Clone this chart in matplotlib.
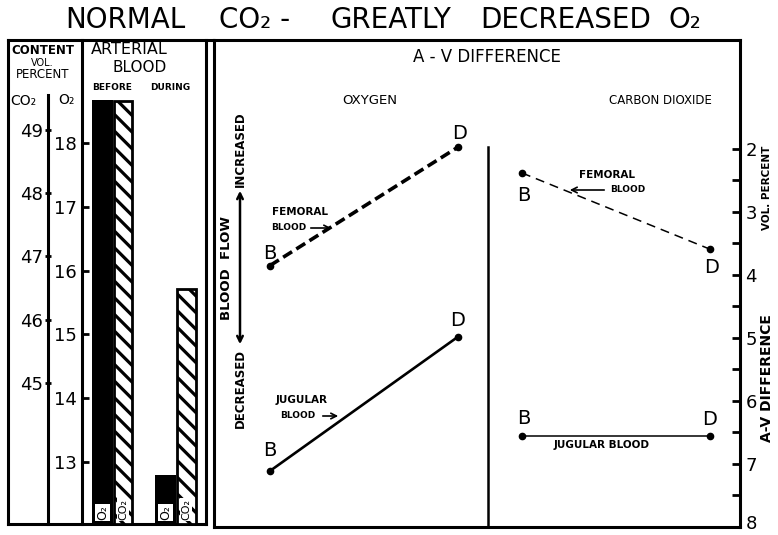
#!/usr/bin/env python
"""Arterial content and A-V difference under normal CO2 / greatly decreased O2."""

import matplotlib

matplotlib.use("Agg")
import matplotlib.pyplot as plt
import matplotlib.transforms as mtransforms
import numpy as np

# --- data ---
BAR_GROUPS = ["BEFORE", "DURING"]
O2_CONTENT = [18.67, 12.80]      # vol. percent, black bars
CO2_CONTENT = [49.46, 46.49]     # vol. percent, hatched bars
O2_TICKS = [13, 14, 15, 16, 17, 18]
CO2_TICKS = [45, 46, 47, 48, 49]

STAGES = ["B", "D"]
O2_FEMORAL = [3.85, 1.97]        # A-V difference, vol. percent
O2_JUGULAR = [7.11, 4.98]
CO2_FEMORAL = [2.38, 3.59]
CO2_JUGULAR = [6.56, 6.56]
AV_TICKS = [2, 3, 4, 5, 6, 7, 8]

# --- layout (pixels of a 778x535 canvas) ---
W, H = 778, 535
O2_LIM = (12.03, 19.61)
CO2_LIM = (42.77, 50.42)
AV_LIM = (8.0, 0.27)
AV_XLIM = (-0.298, 2.5)
CO2_SHIFT = 1.34
LW = 2.2

plt.rcParams["font.family"] = ["DejaVu Sans"]
plt.rcParams["hatch.linewidth"] = 2.3


def rect_px(x0, y0, x1, y1):
    return [x0 / W, 1 - y1 / H, (x1 - x0) / W, (y1 - y0) / H]


fig = plt.figure(figsize=(W / 100, H / 100), dpi=100)

# background layer in pixel coordinates for frames and lettering
bg = fig.add_axes([0, 0, 1, 1])
bg.set_xlim(0, W)
bg.set_ylim(H, 0)
bg.axis("off")

# title
for word, cx in [("NORMAL", 125), ("CO₂ -", 255), ("GREATLY", 391),
                 ("DECREASED", 566), ("O₂", 685)]:
    bg.text(cx, 20, word, fontsize=20, ha="center", va="center")

# left panel frame
bg.plot([8, 213], [40, 40], color="black", lw=LW)
bg.plot([8, 8], [40, 524], color="black", lw=LW)
bg.plot([8, 206], [524, 524], color="black", lw=LW)
bg.plot([206, 206], [40, 524], color="black", lw=LW)
bg.plot([488, 488], [147, 527], color="black", lw=1.8)

# left panel lettering
bg.text(43, 50, "CONTENT", fontsize=8.5, fontweight="bold", ha="center", va="center")
bg.text(42, 63, "VOL.", fontsize=7, ha="center", va="center")
bg.text(43, 75, "PERCENT", fontsize=8.5, ha="center", va="center")
bg.text(23, 101, "CO₂", fontsize=10, ha="center", va="center")
bg.text(66, 100, "O₂", fontsize=10, ha="center", va="center")
bg.text(129, 50, "ARTERIAL", fontsize=11.5, ha="center", va="center")
bg.text(140, 67, "BLOOD", fontsize=11, ha="center", va="center")
bg.text(112, 88, "BEFORE", fontsize=6.5, fontweight="bold", ha="center", va="center")
bg.text(170, 88, "DURING", fontsize=6.5, fontweight="bold", ha="center", va="center")

# right panel lettering
bg.text(487, 57, "A - V DIFFERENCE", fontsize=12, ha="center", va="center")
bg.text(370, 101, "OXYGEN", fontsize=9.5, ha="center", va="center")
bg.text(660, 101, "CARBON DIOXIDE", fontsize=8.5, ha="center", va="center")
bg.text(240, 149, "INCREASED", fontsize=8.5, fontweight="bold", rotation=90,
        ha="center", va="center")
bg.text(240, 388, "DECREASED", fontsize=8.5, fontweight="bold", rotation=90,
        ha="center", va="center")
bg.text(227, 268, "BLOOD  FLOW", fontsize=9.5, fontweight="bold", rotation=90,
        ha="center", va="center")
bg.annotate("", xy=(240, 188), xytext=(240, 347),
            arrowprops=dict(arrowstyle="<->", lw=1.8, color="black", mutation_scale=10))
bg.text(767, 188, "VOL. PERCENT", fontsize=7.5, fontweight="bold", rotation=90,
        ha="center", va="center")
bg.text(767, 378, "A-V DIFFERENCE", fontsize=10, fontweight="bold", rotation=90,
        ha="center", va="center")

small = dict(fontweight="bold", ha="center", va="center")
bg.text(300, 212, "FEMORAL", fontsize=7.5, **small)
bg.text(289, 228, "BLOOD", fontsize=6.5, **small)
bg.annotate("", xy=(334, 228), xytext=(308, 228),
            arrowprops=dict(arrowstyle="->", lw=1.2, color="black"))
bg.text(302, 400, "JUGULAR", fontsize=7.5, **small)
bg.text(298, 416, "BLOOD", fontsize=6.5, **small)
bg.annotate("", xy=(341, 416), xytext=(320, 416),
            arrowprops=dict(arrowstyle="->", lw=1.2, color="black"))
bg.text(607, 175, "FEMORAL", fontsize=7.5, **small)
bg.text(628, 190, "BLOOD", fontsize=6.5, **small)
bg.annotate("", xy=(567, 190), xytext=(607, 190),
            arrowprops=dict(arrowstyle="->", lw=1.2, color="black"))
bg.text(602, 445, "JUGULAR BLOOD", fontsize=7.5, **small)

# --- arterial blood content bars ---
ax_o2 = fig.add_axes(rect_px(82, 40, 206, 524))
ax_o2.patch.set_visible(False)
ax_o2.set_xlim(-0.49, 1.476)
ax_o2.set_ylim(*O2_LIM)
for side in ["top", "right", "bottom"]:
    ax_o2.spines[side].set_visible(False)
ax_o2.spines["left"].set_linewidth(LW)
ax_o2.set_xticks([])
ax_o2.set_yticks(O2_TICKS)
ax_o2.tick_params(axis="y", direction="in", length=5, width=2, labelsize=13, pad=4)

ax_co2 = ax_o2.twinx()
ax_co2.set_ylim(*CO2_LIM)
for side in ["top", "right", "bottom"]:
    ax_co2.spines[side].set_visible(False)
ax_co2.spines["left"].set_visible(True)
ax_co2.spines["left"].set_position(("outward", 34 * 0.72))
ax_co2.spines["left"].set_linewidth(LW)
ax_co2.spines["left"].set_bounds(CO2_LIM[0], 49.55)
ax_co2.yaxis.set_ticks_position("left")
ax_co2.yaxis.set_label_position("left")
ax_co2.set_yticks(CO2_TICKS)
ax_co2.tick_params(axis="y", direction="inout", length=5, width=2, labelsize=13, pad=1)

x = np.arange(len(BAR_GROUPS))
ax_o2.bar(x - 0.165, np.array(O2_CONTENT) - O2_LIM[0], bottom=O2_LIM[0],
          width=0.34, color="black")
ax_co2.bar(x + 0.165, np.array(CO2_CONTENT) - CO2_LIM[0], bottom=CO2_LIM[0],
           width=0.29, facecolor="white", edgecolor="black", hatch="\\\\", lw=2)
box = dict(facecolor="white", edgecolor="none", pad=0.8)
for xi in x:
    ax_o2.annotate("O₂", xy=(xi - 0.165, O2_LIM[0]), xytext=(0, 3),
                   textcoords="offset points", rotation=90, ha="center", va="bottom",
                   fontsize=9, bbox=box)
    ax_co2.annotate("CO₂", xy=(xi + 0.165, CO2_LIM[0]), xytext=(0, 3),
                    textcoords="offset points", rotation=90, ha="center", va="bottom",
                    fontsize=8, bbox=box)

# --- A-V difference panel ---
ax_av = fig.add_axes(rect_px(214, 40, 740, 527))
ax_av.patch.set_visible(False)
ax_av.set_xlim(*AV_XLIM)
ax_av.set_ylim(*AV_LIM)
for side in ax_av.spines:
    ax_av.spines[side].set_linewidth(LW)
ax_av.set_xticks([])
ax_av.yaxis.tick_right()
ax_av.set_yticks(AV_TICKS)
ax_av.set_yticks([t + 0.5 for t in AV_TICKS[:-1]], minor=True)
ax_av.tick_params(axis="y", which="both", direction="in", length=6, width=2,
                  labelsize=13, pad=4)
# the lowest label sits on the bottom edge; lift it a few pixels to keep it whole
last = ax_av.yaxis.get_major_ticks()[-1].label2
last.set_transform(last.get_transform()
                   + mtransforms.ScaledTranslation(0, 0.05, fig.dpi_scale_trans))

xs = np.arange(len(STAGES))
ax_av.plot(xs, O2_FEMORAL, color="black", lw=2.6, linestyle=(0, (2.9, 1.4)),
           marker="o", ms=4.5)
ax_av.plot(xs, O2_JUGULAR, color="black", lw=1.9, marker="o", ms=4.5)
ax_av.plot(xs + CO2_SHIFT, CO2_FEMORAL, color="black", lw=1.1,
           linestyle=(0, (5.9, 3.9)), marker="o", ms=4.5)
ax_av.plot(xs + CO2_SHIFT, CO2_JUGULAR, color="black", lw=1.1, marker="o", ms=4.5)

# B / D stage letters next to each point (offsets in points)
label_offsets = [
    (xs, O2_FEMORAL, [(0, 9), (1, 10)]),
    (xs, O2_JUGULAR, [(0, 15), (0, 12)]),
    (xs + CO2_SHIFT, CO2_FEMORAL, [(1, -16), (1, -13)]),
    (xs + CO2_SHIFT, CO2_JUGULAR, [(1, 13), (0, 12)]),
]
for xv, yv, offs in label_offsets:
    for stage, xi, yi, off in zip(STAGES, xv, yv, offs):
        ax_av.annotate(stage, xy=(xi, yi), xytext=off, textcoords="offset points",
                       ha="center", va="center", fontsize=14)

fig.savefig("out.png", dpi=100)
